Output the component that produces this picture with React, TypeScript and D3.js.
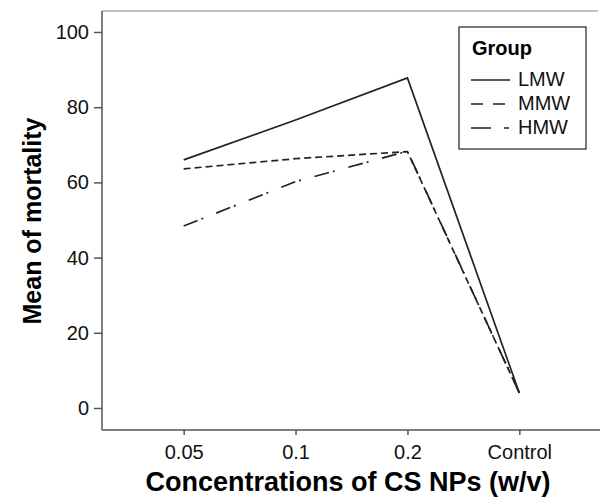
import React, { useEffect, useRef } from "react";
import * as d3 from "d3";

const categories = ["0.05", "0.1", "0.2", "Control"];
const groups = ["LMW", "MMW", "HMW"];
const lmw = [66, 76.6, 87.8, 4];
const mmw = [63.6, 66.3, 68.2, 4];
const hmw = [48.4, 60.2, 68.3, 4];
const yTicks = [0, 20, 40, 60, 80, 100];

const seriesValues = [lmw, mmw, hmw];
const dashes = ["none", "7,4", "15,4,2,14"];
const legendDashes = ["none", "12,10", "20,13,5,20"];

export default function App() {
  const ref = useRef<SVGSVGElement>(null);

  useEffect(() => {
    const width = 600;
    const height = 498;
    const left = 102;
    const top = 11;
    const bottom = 430;
    const right = 601;

    const svg = d3.select(ref.current);
    svg.selectAll("*").remove();
    svg.attr("width", width).attr("height", height);

    const x = d3.scalePoint<string>().domain(categories).range([left, right]).padding(0.73);
    const y = d3.scaleLinear().domain([0, 100]).range([408, 32]);

    const font = "'Liberation Sans', Arial, sans-serif";

    // frame
    svg.append("line").attr("x1", left).attr("x2", 598).attr("y1", top).attr("y2", top)
      .attr("stroke", "#aaa").attr("stroke-width", 1.5);

    const yAxis = svg.append("g").attr("transform", `translate(${left},0)`)
      .call(d3.axisLeft(y).tickValues(yTicks).tickSize(8).tickPadding(5).tickSizeOuter(0));
    yAxis.select(".domain").remove();
    yAxis.selectAll("line").attr("stroke", "#555").attr("stroke-width", 1.5);
    yAxis.selectAll("text").attr("font-family", font).attr("font-size", 20).attr("fill", "#111");
    svg.append("line").attr("x1", left).attr("x2", left).attr("y1", top).attr("y2", bottom)
      .attr("stroke", "#555").attr("stroke-width", 1.5);

    const xAxis = svg.append("g").attr("transform", `translate(0,${bottom})`)
      .call(d3.axisBottom(x).tickSize(5).tickPadding(10).tickSizeOuter(0));
    xAxis.select(".domain").remove();
    xAxis.selectAll("line").attr("stroke", "#555").attr("stroke-width", 1.5);
    xAxis.selectAll("text").attr("font-family", font).attr("font-size", 20).attr("fill", "#111");
    svg.append("line").attr("x1", left).attr("x2", width).attr("y1", bottom).attr("y2", bottom)
      .attr("stroke", "#555").attr("stroke-width", 1.5);

    // lines
    const line = d3.line<number>()
      .x((_, i) => x(categories[i]) ?? 0)
      .y((d) => y(d));

    seriesValues.forEach((vals, i) => {
      svg.append("path")
        .datum(vals)
        .attr("fill", "none")
        .attr("stroke", "#222")
        .attr("stroke-width", 1.7)
        .attr("stroke-dasharray", dashes[i])
        .attr("d", line);
    });

    // axis titles
    svg.append("text")
      .attr("x", 348)
      .attr("y", 491)
      .attr("text-anchor", "middle")
      .attr("font-family", font)
      .attr("font-weight", "bold")
      .attr("font-size", 27)
      .text("Concentrations of CS NPs (w/v)");

    svg.append("text")
      .attr("transform", `translate(41,221) rotate(-90)`)
      .attr("text-anchor", "middle")
      .attr("font-family", font)
      .attr("font-weight", "bold")
      .attr("font-size", 25)
      .text("Mean of mortality");

    // legend
    const lg = svg.append("g");
    lg.append("rect").attr("x", 459).attr("y", 27).attr("width", 127).attr("height", 122)
      .attr("fill", "#fff").attr("stroke", "#222").attr("stroke-width", 1.2);
    lg.append("text").attr("x", 472).attr("y", 55)
      .attr("font-family", font).attr("font-weight", "bold").attr("font-size", 20)
      .text("Group");
    groups.forEach((g, i) => {
      const ly = 80 + i * 24;
      lg.append("line").attr("x1", 471).attr("x2", 510).attr("y1", ly).attr("y2", ly)
        .attr("stroke", "#222").attr("stroke-width", 1.5)
        .attr("stroke-dasharray", legendDashes[i]);
      lg.append("text").attr("x", 518).attr("y", ly + 6)
        .attr("font-family", font).attr("font-size", 20).attr("fill", "#111")
        .text(g);
    });
  }, []);

  return <svg ref={ref} style={{ position: "absolute", left: 0, top: 0 }}></svg>;
}
